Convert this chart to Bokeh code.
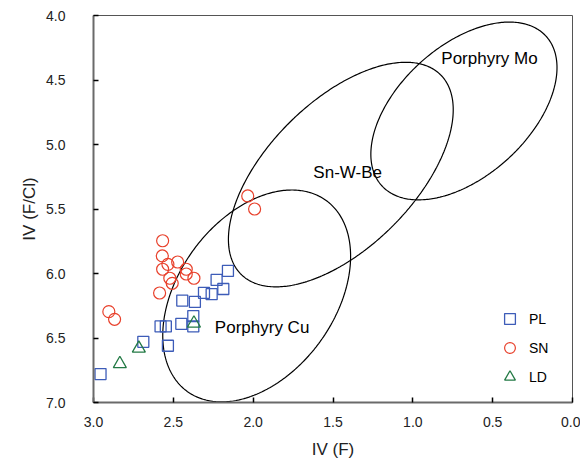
import numpy as np
from bokeh.plotting import figure
from bokeh.models import Range1d, FixedTicker, PrintfTickFormatter, Legend, LegendItem
from bokeh.core.properties import value
from bokeh.embed import file_html
from bokeh.resources import INLINE

FONT = "Liberation Sans"

# ---- data ----
pl_x = [2.956, 2.688, 2.534, 2.580, 2.547, 2.450, 2.375, 2.375, 2.444, 2.365, 2.308, 2.260, 2.187, 2.229, 2.158]
pl_y = [6.78, 6.53, 6.56, 6.41, 6.41, 6.39, 6.41, 6.33, 6.21, 6.22, 6.15, 6.16, 6.12, 6.05, 5.98]

sn_x = [2.567, 2.569, 2.534, 2.473, 2.567, 2.522, 2.507, 2.419, 2.419, 2.371, 2.586, 2.904, 2.868, 2.034, 1.991]
sn_y = [5.746, 5.864, 5.929, 5.911, 5.967, 6.037, 6.076, 5.967, 6.004, 6.037, 6.151, 6.296, 6.355, 5.399, 5.50]

ld_x = [2.835, 2.716, 2.371]
ld_y = [6.70, 6.58, 6.386]

# fields: centre and two conjugate semi-axis vectors (data units)
field_names = ["Porphyry Cu", "Sn-W-Be", "Porphyry Mo"]
field_cx = [1.978, 1.451, 0.680]
field_cy = [6.174, 5.233, 4.740]
field_ax = [-0.435, -0.625, -0.514]
field_ay = [-0.740, -0.773, -0.580]
field_bx = [-0.396, -0.324, -0.275]
field_by = [0.356, 0.400, 0.372]
label_x = [1.944, 1.408, 0.520]
label_y = [6.415, 5.219, 4.337]

x_ticks = [0.0, 0.5, 1.0, 1.5, 2.0, 2.5, 3.0]
y_ticks = [4.0, 4.5, 5.0, 5.5, 6.0, 6.5, 7.0]

p = figure(width=580, height=462, output_backend="svg", toolbar_location=None,
           x_range=Range1d(3.0, 0.0), y_range=Range1d(7.0, 4.0),
           min_border_left=93, min_border_right=8, min_border_top=15, min_border_bottom=60)
p.background_fill_color = "white"
p.border_fill_color = "white"
p.grid.visible = False
p.outline_line_color = "#555555"
p.outline_line_width = 1

# field outlines
t = np.linspace(0, 2 * np.pi, 361)
for i in range(len(field_names)):
    ex = field_cx[i] + field_ax[i] * np.cos(t) + field_bx[i] * np.sin(t)
    ey = field_cy[i] + field_ay[i] * np.cos(t) + field_by[i] * np.sin(t)
    p.line(ex, ey, line_color="black", line_width=1.2)

p.text(x=label_x, y=label_y, text=field_names, text_align="center", text_baseline="middle",
       text_font=value(FONT), text_font_size="17px", text_color="black")

r_pl = p.scatter(pl_x, pl_y, marker="square", size=11, fill_color=None,
                 line_color="#3d5cb8", line_width=1.3)
r_sn = p.scatter(sn_x, sn_y, marker="circle", size=12, fill_color=None,
                 line_color="#e8412c", line_width=1.2)
r_ld = p.scatter(ld_x, ld_y, marker="triangle", size=13, fill_color=None,
                 line_color="#237a45", line_width=1.3)

legend = Legend(items=[LegendItem(label="PL", renderers=[r_pl]),
                       LegendItem(label="SN", renderers=[r_sn]),
                       LegendItem(label="LD", renderers=[r_ld])],
                location=(393, 2), orientation="vertical",
                glyph_width=27, glyph_height=27, spacing=2, padding=10,
                label_standoff=6, label_text_font=FONT, label_text_font_size="14px",
                label_text_color="black", background_fill_alpha=0, border_line_alpha=0)
p.add_layout(legend)

for ax in (p.xaxis[0], p.yaxis[0]):
    ax.axis_line_color = "#6a6a6a"
    ax.axis_line_width = 2
    ax.major_tick_in = 5
    ax.major_tick_out = 0
    ax.major_tick_line_color = "black"
    ax.major_tick_line_width = 1.5
    ax.minor_tick_line_color = None
    ax.major_label_text_font = FONT
    ax.major_label_text_font_size = "14px"
    ax.major_label_text_color = "#222222"
    ax.axis_label_text_font = FONT
    ax.axis_label_text_font_size = "17px"
    ax.axis_label_text_font_style = "normal"
    ax.axis_label_text_color = "#222222"
    ax.formatter = PrintfTickFormatter(format="%.1f")

p.xaxis[0].ticker = FixedTicker(ticks=x_ticks)
p.yaxis[0].ticker = FixedTicker(ticks=y_ticks)
p.xaxis[0].axis_label = "IV (F)"
p.yaxis[0].axis_label = "IV (F/Cl)"
p.xaxis[0].major_label_standoff = 14
p.xaxis[0].axis_label_standoff = 10
p.yaxis[0].major_label_standoff = 28
p.yaxis[0].axis_label_standoff = 4

open("out.html", "w").write(file_html(p, INLINE))
